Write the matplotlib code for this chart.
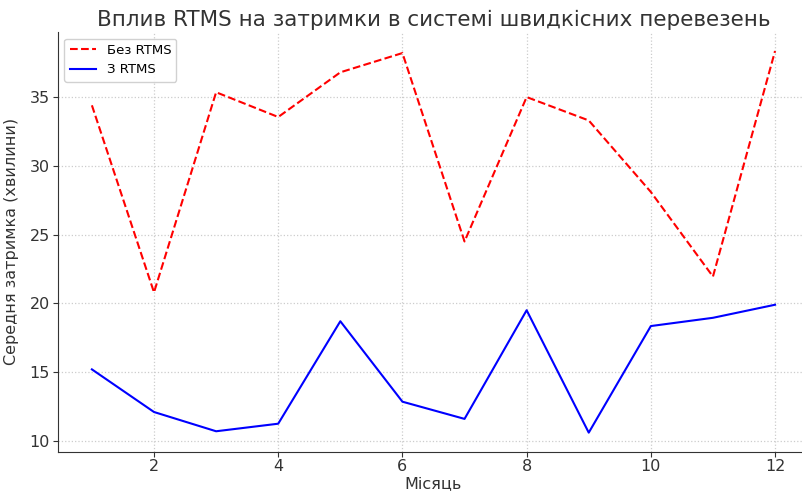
import matplotlib.pyplot as plt

# Months
months = [1, 2, 3, 4, 5, 6, 7, 8, 9, 10, 11, 12]

# Average delay (minutes)
without_rtms = [34.4, 20.8, 35.35, 33.55, 36.8, 38.2, 24.5, 35.0, 33.3, 28.1, 21.95, 38.35]
with_rtms = [15.2, 12.1, 10.7, 11.25, 18.7, 12.85, 11.6, 19.5, 10.6, 18.35, 18.95, 19.9]

plt.rcParams['font.family'] = ['DejaVu Sans']

fig, ax = plt.subplots(figsize=(8.02, 4.91), dpi=100)

ax.plot(months, without_rtms, color='red', linestyle='--', linewidth=1.5, label='Без RTMS')
ax.plot(months, with_rtms, color='blue', linestyle='-', linewidth=1.5, label='З RTMS')

ax.set_title('Вплив RTMS на затримки в системі швидкісних перевезень', fontsize=15.5, color='#333333', pad=4)
ax.set_xlabel('Місяць', fontsize=11.5, color='#333333', labelpad=1)
ax.set_ylabel('Середня затримка (хвилини)', fontsize=11.5, color='#333333', labelpad=8)

ax.grid(True, linestyle=':', color='#cccccc', linewidth=0.9)
ax.spines['top'].set_visible(False)
ax.spines['right'].set_visible(False)
ax.spines['left'].set_color('#333333')
ax.spines['bottom'].set_color('#333333')
ax.tick_params(labelsize=11.5, colors='#333333', pad=2)
ax.set_xticks([2, 4, 6, 8, 10, 12])
ax.set_yticks([10, 15, 20, 25, 30, 35])

ax.legend(loc='upper left', fontsize=9.5, framealpha=0.9)

plt.subplots_adjust(left=0.072, right=1.009, top=0.935, bottom=0.08)
plt.savefig('out.png', dpi=100)
